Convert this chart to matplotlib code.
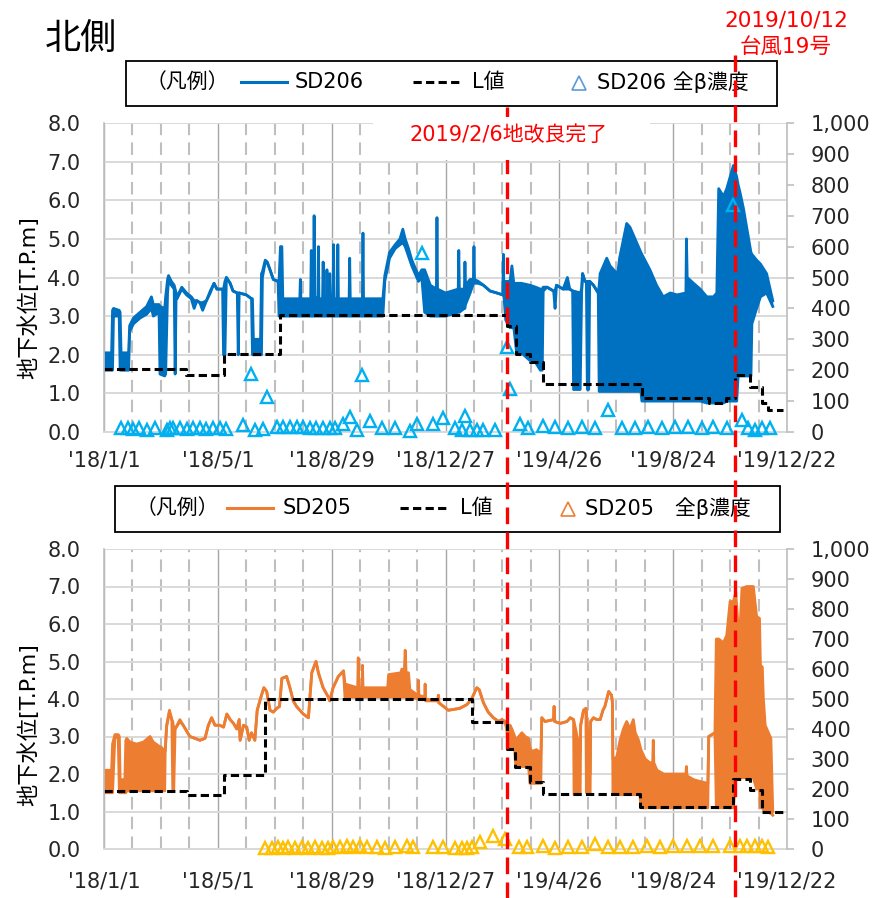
import numpy as np
import matplotlib
matplotlib.use('Agg')
import matplotlib.pyplot as plt
from matplotlib.lines import Line2D
from matplotlib.patches import Rectangle
from matplotlib.ticker import FixedLocator, MultipleLocator, FuncFormatter

plt.rcParams['font.family'] = ['DejaVu Sans', 'Noto Sans CJK JP']

# x axis in days counted from 2018/1/1
tick_days = [0, 120, 240, 360, 480, 600, 720]
tick_labels = ["'18/1/1", "'18/5/1", "'18/8/29", "'18/12/27", "'19/4/26", "'19/8/24", "'19/12/22"]

# SD206 water level: (day, daily low, daily high) [T.P.m]
sd206_rows = [
    (0, 1.6, 2.05), (8, 1.6, 2.05), (9, 1.6, 3.15), (10, 3.0, 3.2), (16, 3.0, 3.15),
    (17, 1.6, 3.1), (18, 1.6, 2.05), (26, 1.6, 2.05), (27, 2.6, 2.75), (31, 2.8, 2.95),
    (38, 2.95, 3.1), (45, 3.05, 3.25), (50, 3.2, 3.5), (52, 3.0, 3.3), (58, 3.1, 3.3),
    (59, 1.5, 3.25), (64, 1.45, 3.2), (65, 1.5, 3.5), (67, 3.6, 3.95), (68, 3.9, 4.05),
    (71, 3.8, 3.9), (74, 3.7, 3.8), (75, 1.5, 3.7), (76, 3.5, 3.6), (77, 3.45, 3.5),
    (82, 3.7, 3.75), (87, 3.55, 3.6), (92, 3.45, 3.5), (95, 3.2, 3.4), (98, 3.4, 3.4),
    (101, 3.35, 3.35), (104, 3.15, 3.35), (108, 3.4, 3.4), (112, 3.6, 3.65), (116, 3.85, 3.85),
    (119, 3.7, 3.7), (125, 3.7, 3.7), (126, 2.0, 3.7), (127.5, 2.0, 3.9), (129, 4.0, 4.0),
    (133, 3.85, 3.85), (136, 3.65, 3.65), (140.5, 3.6, 3.6), (141.5, 2.0, 3.6), (142.5, 3.6, 3.6),
    (150, 3.55, 3.55), (155.5, 3.45, 3.45), (156.5, 2.0, 3.45), (157.5, 2.0, 2.4), (165, 2.0, 2.4),
    (166, 2.0, 4.1), (167, 4.0, 4.15), (170, 4.4, 4.45), (172, 4.4, 4.4), (175, 4.2, 4.2),
    (178.5, 3.95, 3.95), (183.5, 3.9, 3.9), (184.5, 3.0, 3.9), (186, 3.0, 4.8), (187.5, 3.0, 4.8),
    (188.5, 3.0, 3.45), (206.4, 3.0, 3.45), (207, 3.0, 3.95), (207.6, 3.0, 3.45), (217.9, 3.0, 3.45),
    (218.5, 3.0, 4.7), (219.1, 3.0, 3.45), (220.9, 3.0, 3.45), (221.5, 3.0, 5.6), (222.1, 3.0, 3.5),
    (225.4, 3.0, 3.45), (226, 3.0, 4.8), (226.6, 3.0, 3.45), (230.4, 3.0, 3.45), (231, 3.0, 4.4),
    (231.6, 3.0, 3.45), (234.4, 3.0, 3.45), (235, 3.0, 4.2), (235.6, 3.0, 3.45), (237.4, 3.0, 3.45),
    (238, 3.0, 4.1), (238.6, 3.0, 3.45), (241.4, 3.0, 3.45), (242, 3.0, 4.85), (242.6, 3.0, 3.45),
    (245.9, 3.0, 3.45), (246.5, 3.0, 4.85), (247.1, 3.0, 3.45), (258.4, 3.0, 3.45), (259, 3.0, 4.5),
    (259.6, 3.0, 3.45), (272.4, 3.0, 3.45), (273, 3.0, 5.15), (273.6, 3.0, 3.45),
    (294, 3.0, 3.45), (296, 3.9, 4.05), (301, 4.5, 4.65), (307, 4.75, 4.85), (312, 4.85, 5.0),
    (315, 4.9, 5.25), (317.5, 4.8, 5.0), (321, 4.55, 4.75), (324.5, 4.3, 4.45), (328, 4.1, 4.25),
    (331.5, 3.9, 4.05), (335, 4.0, 4.2), (338, 3.1, 4.2), (344, 3.0, 3.8), (350.4, 3.0, 3.7),
    (351, 3.0, 5.55), (351.6, 3.0, 3.7), (360, 3.0, 3.6), (373.4, 3.1, 3.7), (374, 3.1, 4.7),
    (374.6, 3.1, 3.7), (379.9, 3.2, 3.7), (380.5, 3.2, 4.4), (381.1, 3.3, 3.8), (386, 3.6, 3.95),
    (389.4, 3.85, 3.95), (390, 3.85, 4.8), (390.6, 3.85, 3.95), (394.5, 3.85, 3.9), (400, 3.8, 3.8),
    (407, 3.65, 3.65), (414, 3.6, 3.6), (420.4, 3.55, 3.55), (421, 3.55, 4.6), (421.6, 3.5, 3.6),
    (423.5, 2.9, 3.9), (428, 2.7, 3.9), (430, 2.7, 4.3), (432, 2.7, 3.85), (435, 2.05, 3.85),
    (440, 2.05, 3.85), (449, 1.85, 3.8), (455, 1.8, 3.75), (460, 1.6, 3.7), (462, 1.6, 3.7),
    (463, 3.65, 3.75), (467, 3.75, 3.75), (474, 3.65, 3.65), (475.5, 3.2, 3.65), (477, 3.8, 3.8),
    (484, 3.7, 3.7), (488.5, 3.7, 4.0), (491, 3.7, 3.7), (494, 3.65, 3.65), (495, 1.1, 3.65),
    (502, 1.1, 3.6), (503.5, 3.6, 3.7), (504.5, 4.1, 4.1), (507, 3.9, 3.9), (508.5, 3.9, 3.9),
    (509.5, 1.1, 3.9), (511, 1.1, 3.9), (512, 3.9, 3.9), (516, 3.8, 3.8), (521, 3.6, 3.6),
    (522, 1.05, 3.8), (523, 1.05, 4.1), (530, 1.05, 4.5), (533.5, 1.05, 4.3), (539, 1.05, 4.15),
    (540.5, 1.05, 3.9), (543.5, 1.05, 4.5), (551, 1.05, 5.4), (554.5, 1.05, 5.3), (561.5, 1.05, 4.9),
    (566, 1.05, 4.65), (567, 0.8, 4.6), (575.5, 0.8, 4.2), (582.5, 0.8, 3.8), (589.5, 0.8, 3.5),
    (597, 0.8, 3.6), (604, 0.8, 3.55), (613.4, 0.8, 3.6), (614, 0.8, 5.0), (614.8, 0.8, 4.0),
    (621.5, 0.8, 3.85), (628.5, 0.8, 3.7), (635.5, 0.75, 3.5), (642.5, 0.75, 3.5), (646, 0.75, 3.6),
    (648, 0.75, 6.3), (653, 0.75, 6.1), (656.5, 0.8, 6.3), (663.5, 0.8, 6.9), (667, 0.8, 6.6),
    (668.5, 1.45, 6.4), (670.5, 1.45, 6.2), (674, 1.45, 5.8), (679.5, 1.45, 5.0), (682, 1.45, 4.65),
    (683, 2.8, 4.6), (688, 3.2, 4.45), (692, 3.5, 4.35), (698.5, 3.6, 4.1), (705, 3.25, 3.4),
]
sd206_day, sd206_low, sd206_high = np.array(sd206_rows).T

# SD205 water level: (day, daily low, daily high) [T.P.m]
sd205_rows = [
    (0, 1.5, 2.1), (8, 1.5, 2.1), (9, 1.5, 2.8), (11.5, 3.0, 3.05), (15, 2.95, 3.05),
    (16.2, 1.5, 3.0), (17, 1.5, 1.85), (22, 1.5, 1.85), (23, 1.5, 2.9), (24, 1.55, 2.95),
    (27.5, 1.55, 2.85), (34.5, 1.55, 2.8), (41.5, 1.55, 2.85), (48.5, 1.55, 3.0), (52, 1.55, 2.85),
    (57.5, 1.55, 2.75), (61, 1.55, 2.7), (64, 1.55, 2.6), (64.5, 2.6, 2.6), (66, 3.25, 3.3),
    (69, 3.65, 3.7), (71.5, 3.45, 3.45), (72.5, 1.55, 3.4), (73.5, 1.55, 3.2), (75, 3.2, 3.2),
    (80, 3.4, 3.45), (83.5, 3.3, 3.3), (87, 3.15, 3.15), (90.5, 3.0, 3.0), (96, 2.95, 2.95),
    (101, 2.9, 2.9), (106.5, 2.95, 2.95), (110, 3.3, 3.3), (113.5, 3.5, 3.5), (117, 3.3, 3.3),
    (122, 3.3, 3.3), (126, 3.25, 3.25), (129.5, 3.6, 3.6), (133, 3.45, 3.45), (136.5, 3.35, 3.35),
    (140, 3.2, 3.2), (142.5, 3.45, 3.45), (143.5, 2.9, 2.9), (147, 3.3, 3.3), (150.5, 3.25, 3.25),
    (153, 2.9, 2.9), (155.5, 3.1, 3.1), (159, 2.9, 2.9), (161.5, 3.7, 3.7), (166, 4.1, 4.1),
    (168.5, 4.3, 4.3), (171.5, 4.2, 4.2), (175, 3.7, 3.7), (178.5, 3.65, 3.65), (182, 3.75, 3.75),
    (185, 3.8, 3.8), (187.5, 4.55, 4.55), (192.5, 4.6, 4.6), (196, 4.3, 4.3), (199.5, 3.95, 3.95),
    (203, 3.8, 3.8), (210, 3.6, 3.6), (215.5, 3.5, 3.5), (217, 4.0, 4.0), (219, 4.7, 4.7),
    (223.5, 5.0, 5.0), (226, 4.7, 4.7), (231, 4.3, 4.3), (236.5, 4.05, 4.05), (238, 3.95, 3.95),
    (241.5, 4.3, 4.3), (247, 4.6, 4.6), (252.5, 4.75, 4.75), (254, 4.05, 4.4), (267.4, 4.05, 4.3),
    (268, 4.05, 5.1), (268.6, 4.05, 4.3), (271.9, 4.05, 4.3), (272.5, 4.05, 4.9), (273.1, 4.05, 4.3),
    (299, 4.05, 4.3), (300, 4.05, 4.65), (313, 4.05, 4.7), (314, 4.05, 4.8), (316.5, 4.05, 4.7),
    (317.5, 4.05, 5.3), (318.5, 4.05, 4.7), (321, 4.05, 4.7), (322.5, 4.05, 4.25), (331, 4.0, 4.1),
    (331.5, 4.0, 4.5), (332, 4.0, 4.1), (338, 4.0, 4.05), (338.5, 4.0, 4.4), (339, 3.95, 4.0),
    (352, 3.95, 3.95), (352.5, 4.1, 4.1), (353, 3.9, 3.9), (358, 3.8, 3.8), (363, 3.7, 3.7),
    (368, 3.72, 3.72), (375, 3.75, 3.75), (382.5, 3.85, 3.85), (387.5, 4.0, 4.0), (393, 4.3, 4.3),
    (395.5, 4.25, 4.25), (400, 3.9, 3.9), (405, 3.65, 3.65), (410.5, 3.5, 3.5), (416, 3.4, 3.4),
    (419.5, 3.45, 3.45), (423, 3.4, 3.4), (424.5, 3.2, 3.2), (426.5, 2.7, 3.1), (428, 2.7, 3.3),
    (430, 2.7, 3.2), (433, 2.65, 3.0), (434, 2.2, 2.9), (440.5, 2.2, 3.1), (444, 2.2, 3.0),
    (447.5, 2.2, 2.95), (449, 1.75, 2.7), (451, 1.75, 2.6), (456, 1.75, 2.65), (460.5, 1.75, 2.55),
    (461.5, 3.5, 3.5), (465, 3.4, 3.4), (473.9, 3.45, 3.45), (474.5, 3.8, 3.8), (475.1, 3.4, 3.4),
    (481, 3.35, 3.35), (488, 3.4, 3.4), (491.5, 3.5, 3.5), (495, 3.45, 3.45), (495.5, 1.45, 3.4),
    (502, 1.45, 2.6), (502.5, 3.3, 3.3), (505.5, 3.7, 3.7), (508, 3.75, 3.75), (508.5, 1.5, 3.7),
    (512.5, 1.5, 2.0), (513, 3.4, 3.4), (516, 3.5, 3.5), (519.5, 3.45, 3.45), (523, 3.45, 3.45),
    (526, 3.7, 3.7), (528, 3.8, 3.8), (532, 4.2, 4.2), (535, 4.1, 4.1), (536, 3.9, 3.9),
    (536.5, 1.45, 2.4), (540.5, 1.45, 2.45), (544, 1.45, 2.9), (547.5, 1.45, 3.2), (551, 1.45, 3.4),
    (554.5, 1.45, 3.2), (558, 1.45, 3.45), (560, 1.45, 3.1), (563.5, 1.45, 2.9), (565, 1.45, 2.75),
    (566, 1.1, 2.65), (570.5, 1.1, 2.4), (575.5, 1.1, 2.3), (578.4, 1.1, 2.3), (579, 1.1, 2.9),
    (579.6, 1.1, 2.3), (583, 1.1, 2.1), (590, 1.1, 2.0), (597, 1.1, 2.0), (604, 1.1, 2.0),
    (613.4, 1.1, 2.0), (614, 1.1, 2.2), (614.6, 1.1, 1.95), (621.5, 1.1, 1.85), (628.5, 1.1, 1.8),
    (636.5, 1.1, 1.75), (637.5, 3.0, 3.0), (644, 3.1, 3.1), (645.5, 1.1, 5.6), (648, 1.1, 5.6),
    (653, 1.1, 5.5), (656.5, 1.1, 5.7), (660, 1.1, 6.6), (663.5, 1.1, 6.6), (666, 1.9, 6.85),
    (668.5, 1.9, 5.9), (670.5, 1.9, 5.9), (672.5, 1.9, 6.95), (677.5, 1.9, 7.0), (684.5, 1.9, 7.0),
    (688, 1.6, 6.2), (691, 1.6, 6.15), (692, 1.1, 4.9), (694, 1.1, 4.85), (695, 1.05, 4.05),
    (697, 1.0, 3.3), (703, 0.95, 2.95), (705, 0.9, 1.0),
]
sd205_day, sd205_low, sd205_high = np.array(sd205_rows).T

# L値 steps (value holds from each day until the next)
l206_day = [0, 86, 126.5, 185.5, 425, 434, 449, 462.5, 567, 638, 656, 665, 681, 694, 700, 716]
l206_val = [1.62, 1.48, 2.02, 3.02, 2.74, 2.03, 1.82, 1.25, 0.87, 0.76, 0.87, 1.48, 1.16, 0.74, 0.57, 0.57]
l205_day = [0, 87, 126.5, 170, 387.6, 424.5, 433, 449, 462.5, 565, 663.5, 681, 693.4, 716]
l205_val = [1.55, 1.44, 1.97, 4.0, 3.4, 2.68, 2.2, 1.78, 1.47, 1.11, 1.86, 1.57, 0.98, 0.98]

# 全β濃度 (right axis)
beta206_day = [17.6, 25.7, 30.9, 37.3, 45, 53.8, 66, 69.6, 73, 80, 87, 94, 101, 108, 115, 122, 129,
               147, 154.6, 159, 168, 171.5, 182, 189, 196, 203, 210, 217, 224, 231, 238, 243.6,
               252.4, 259.4, 266.4, 271.7, 280.5, 292.8, 306.8, 322.6, 329.7, 335, 347.2, 357,
               370, 377, 380.6, 385.9, 393, 400, 412, 424.5, 428, 438.6, 447.4, 463.2, 475.4,
               489.5, 503.5, 517.6, 531.7, 545.7, 559.8, 573.8, 587.9, 602, 616, 630, 642.3, 657,
               663.4, 672.2, 679.2, 686.3, 693.3, 702]
beta206_val = [12, 12, 10, 12, 8, 12, 5, 12, 12, 12, 10, 12, 12, 10, 12, 12, 10,
               22, 187, 8, 10, 112, 15, 15, 15, 15, 15, 12, 12, 12, 12, 12,
               26, 50, 8, 185, 37, 12, 12, 3, 26, 579, 25, 44,
               12, 8, 52, 8, 8, 8, 8, 276, 138, 26, 12, 18, 15,
               12, 15, 12, 71, 12, 12, 15, 12, 15, 15, 12, 15, 12,
               735, 39, 12, 8, 12, 12]
beta205_day = [170, 176.7, 183.7, 189, 194.4, 201.4, 208.4, 215.4, 222.4, 229.4, 236.4, 241.7,
               248.7, 255.7, 262.8, 269.8, 276.9, 287.4, 296.2, 306.8, 319, 326, 347.2, 357, 370,
               377, 382.4, 387.6, 396.4, 410.5, 422.8, 437, 445.6, 463, 475.4, 489.5, 503.5,
               517.6, 531.7, 544, 558, 572, 586, 600.2, 614.2, 628.3, 642.3, 659.9, 670.5, 677.5,
               686.3, 693.3, 700.3]
beta205_val = [5, 5, 8, 5, 8, 5, 8, 5, 8, 5, 5, 8,
               8, 10, 8, 10, 8, 8, 5, 8, 10, 8, 8, 8, 3,
               5, 5, 8, 24, 45, 35, 6, 6, 10, 5, 8, 8,
               18, 8, 8, 8, 10, 8, 10, 10, 10, 10, 10, 10, 10,
               10, 10, 8]

W, H = 872, 898
fig = plt.figure(figsize=(W / 100, H / 100), dpi=100)


def fx(px):
    return px / W


def fy(py):
    return 1 - py / H


def draw_panel(rect, day, low, high, color, l_day, l_val, b_day, b_val, b_color, xpad):
    ax = fig.add_axes(rect)
    ax.set_xlim(0, 720)
    ax.set_ylim(0, 8)
    ax.set_axisbelow(True)
    ax.fill_between(day, low, high, color=color, lw=0)
    ax.plot(day, low, color=color, lw=2)
    ax.plot(day, high, color=color, lw=2)
    ax.step(l_day, l_val, where='post', color='black', lw=2.2, ls=(0, (2.7, 1.4)))

    ax.xaxis.set_major_locator(FixedLocator(tick_days))
    ax.xaxis.set_minor_locator(MultipleLocator(30))
    ax.set_xticklabels(tick_labels)
    ax.yaxis.set_major_locator(MultipleLocator(1))
    ax.yaxis.set_major_formatter(FuncFormatter(lambda v, p: f'{v:.1f}'))
    ax.grid(axis='y', color='#D9D9D9', lw=1.4)
    ax.grid(axis='x', which='major', color='#A6A6A6', lw=1.0)
    ax.grid(axis='x', which='minor', color='#BFBFBF', lw=1.5, ls=(0, (6, 3.5)))
    ax.tick_params(axis='x', which='both', length=0, pad=xpad, labelsize=15, colors='#262626')
    ax.tick_params(axis='y', length=0, pad=17, labelsize=15, colors='#262626')
    for side in ['top', 'right']:
        ax.spines[side].set_visible(False)
    ax.spines['left'].set_color('#BFBFBF')
    ax.spines['bottom'].set_color('#D9D9D9')
    ax.spines['left'].set_linewidth(1.2)
    ax.spines['bottom'].set_linewidth(1.4)

    ax2 = ax.twinx()
    ax2.set_ylim(0, 1000)
    ax2.plot(b_day, b_val, ls='none', marker='^', ms=9, mfc='none', mec=b_color, mew=1.7,
             clip_on=False)
    ax2.yaxis.set_major_locator(MultipleLocator(100))
    ax2.yaxis.set_major_formatter(FuncFormatter(lambda v, p: f'{int(v):,}'))
    ax2.tick_params(axis='y', length=5, width=1.2, color='#BFBFBF', pad=12, labelsize=15,
                    labelcolor='#262626')
    for side in ['top', 'left', 'bottom']:
        ax2.spines[side].set_visible(False)
    ax2.spines['right'].set_color('#BFBFBF')
    ax2.spines['right'].set_linewidth(1.2)
    return ax


top_rect = [fx(104), fy(432), fx(787) - fx(104), fy(123) - fy(432)]
bot_rect = [fx(104), fy(849), fx(787) - fx(104), fy(549) - fy(849)]
draw_panel(top_rect, sd206_day, sd206_low, sd206_high, '#0070C0',
           l206_day, l206_val, beta206_day, beta206_val, '#00B0F0', 13)
draw_panel(bot_rect, sd205_day, sd205_low, sd205_high, '#ED7D31',
           l205_day, l205_val, beta205_day, beta205_val, '#FFC000', 16)

# title and axis labels
fig.text(fx(45), fy(39), '北側', fontsize=26, ha='left', va='center')
fig.text(fx(28), fy(298), '地下水位[T.P.m]', fontsize=16, rotation=90, ha='center', va='center')
fig.text(fx(28), fy(725), '地下水位[T.P.m]', fontsize=16, rotation=90, ha='center', va='center')


def legend_box(x0, x1, y0, y1, yc, color, mcolor, items, label_beta):
    fig.add_artist(Rectangle((fx(x0), fy(y1)), fx(x1) - fx(x0), fy(y0) - fy(y1),
                             transform=fig.transFigure, facecolor='white', edgecolor='black',
                             lw=1.3, zorder=5))
    c_text, line_x, name_x, dash_x, l_x, tri_x, beta_x, name = items
    fig.text(fx(c_text), fy(yc), '（凡例）', fontsize=15, ha='center', va='center', zorder=6)
    fig.add_artist(Line2D([fx(line_x[0]), fx(line_x[1])], [fy(yc), fy(yc)], color=color, lw=2.2,
                          transform=fig.transFigure, zorder=6))
    fig.text(fx(name_x), fy(yc), name, fontsize=15, ha='left', va='center', zorder=6)
    fig.add_artist(Line2D([fx(dash_x[0]), fx(dash_x[1])], [fy(yc), fy(yc)], color='black',
                          lw=2.2, ls=(0, (2.7, 1.4)), transform=fig.transFigure, zorder=6))
    fig.text(fx(l_x), fy(yc), 'L値', fontsize=15, ha='left', va='center', zorder=6)
    fig.add_artist(Line2D([fx(tri_x)], [fy(yc + 1)], ls='none', marker='^', ms=10, mfc='none',
                          mec=mcolor, mew=1.2, transform=fig.transFigure, zorder=6))
    fig.text(fx(beta_x), fy(yc), label_beta, fontsize=15, ha='left', va='center', zorder=6)


legend_box(126, 777, 61, 106, 82, '#0070C0', '#5B9BD5',
           (187, (241, 287), 295, (413, 460), 472, 579, 597, 'SD206'), 'SD206 全β濃度')
legend_box(115, 780, 486, 532, 508, '#ED7D31', '#ED7D31',
           (177, (227, 273), 283, (400, 447), 460, 568, 585, 'SD205'), 'SD205　全β濃度')

# event markers spanning both panels
red_dash = (0, (5, 2.5))
fig.add_artist(Line2D([fx(507), fx(507)], [fy(107), fy(898)], color='red', lw=2.4, ls=red_dash,
                      transform=fig.transFigure, zorder=10))
fig.add_artist(Line2D([fx(734.5), fx(734.5)], [fy(55), fy(898)], color='red', lw=2.4, ls=red_dash,
                      transform=fig.transFigure, zorder=10))
fig.add_artist(Rectangle((fx(373), fy(160)), fx(650) - fx(373), fy(117) - fy(160),
                         transform=fig.transFigure, facecolor='white', edgecolor='none', zorder=11))
fig.text(fx(509), fy(135), '2019/2/6地改良完了', fontsize=15, color='red', ha='center',
         va='center', zorder=12)
fig.text(fx(786), fy(21), '2019/10/12', fontsize=15.5, color='red', ha='center', va='center')
fig.text(fx(786), fy(47), '台風19号', fontsize=15.5, color='red', ha='center', va='center')

fig.savefig('out.png', dpi=100)
